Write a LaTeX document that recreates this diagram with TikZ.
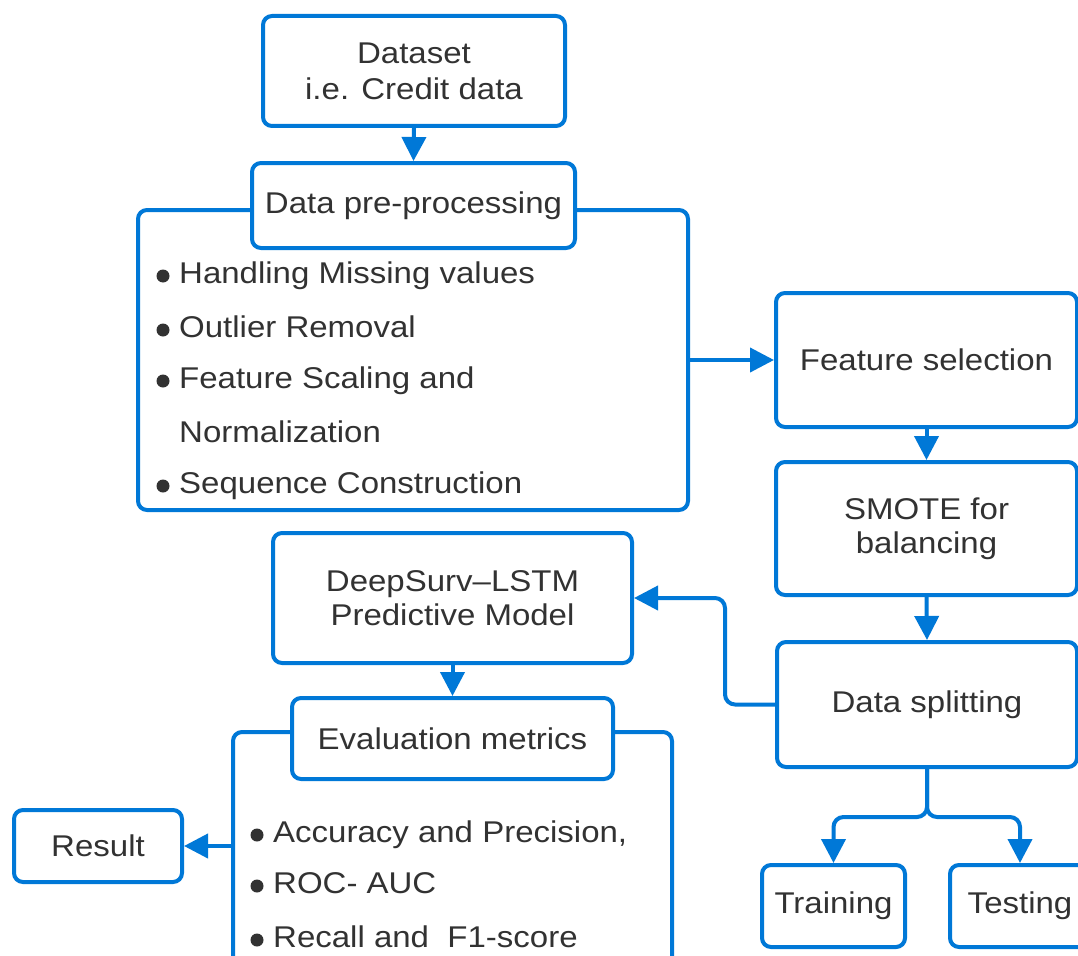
\documentclass[tikz,border=0pt]{standalone}
\usepackage{fontspec}
\setmainfont[FakeStretch=1.1]{Liberation Sans}
\usetikzlibrary{arrows.meta}
\definecolor{flowblue}{RGB}{0,120,215}
\definecolor{ink}{RGB}{50,50,50}

\begin{document}
\begin{tikzpicture}[x=1pt,y=-1pt,
  txt/.style={text=ink, font=\fontsize{30}{35}\selectfont},
  box/.style={txt, draw=flowblue, line width=4pt, rounded corners=9pt,
    fill=white, inner sep=0pt, align=center},
  item/.style={txt, anchor=base west, inner sep=0pt},
  arr/.style={draw=flowblue, line width=4pt,
    -{Triangle[length=24pt,width=24pt]}},
  bullet/.style={fill=ink}]

\fill[white] (0,0) rectangle (1078,955);
\useasboundingbox (0,0) rectangle (1078,955);

% pre-processing group
\node[box, minimum width=550pt, minimum height=300pt] (prebig) at (413,360) {};
\node[box, minimum width=323pt, minimum height=85pt] (pretitle) at (413.5,205.5) {Data pre-processing};
\node[box, minimum width=302pt, minimum height=110pt, font=\fontsize{30}{36}\selectfont] (dataset) at (414,71) {Dataset\\i.e. Credit data};

\node[item] (p1) at (179,283) {Handling Missing values};
\node[item] (p2) at (179,337) {Outlier Removal};
\node[item] (p3) at (179,388) {Feature Scaling and};
\node[item] (p4) at (179,442) {Normalization};
\node[item] (p5) at (179,493) {Sequence Construction};
\foreach \n in {p1,p2,p3,p5}
  \fill[bullet] (\n.base west) ++(-16,-7) circle (6.5pt);

% right column
\node[box, minimum width=301pt, minimum height=134pt] (fs) at (926.5,360) {Feature selection};
\node[box, minimum width=301pt, minimum height=133pt, font=\fontsize{30}{34}\selectfont] (smote) at (926.5,528.5) {SMOTE for\\balancing};
\node[box, minimum width=300pt, minimum height=125pt] (split) at (927,704.5) {Data splitting};
\node[box, minimum width=143pt, minimum height=82pt] (train) at (833.5,906) {Training};
\node[box, minimum width=140pt, minimum height=82pt] (test) at (1020,906) {Testing};

% model and evaluation
\node[box, minimum width=359pt, minimum height=130pt, font=\fontsize{30}{34}\selectfont] (deep) at (452.5,598) {DeepSurv–LSTM\\Predictive Model};
\node[box, minimum width=439pt, minimum height=268pt] (evalbig) at (452.5,866) {};
\node[box, minimum width=321pt, minimum height=81pt] (evaltitle) at (452.5,738.5) {Evaluation metrics};
\node[box, minimum width=168pt, minimum height=72pt] (result) at (98,846) {Result};

\node[item] (e1) at (273,842) {Accuracy and Precision,};
\node[item] (e2) at (273,893) {ROC- AUC};
\node[item] (e3) at (273,947) {Recall and~ F1-score};
\foreach \n in {e1,e2,e3}
  \fill[bullet] (\n.base west) ++(-16,-7) circle (6.5pt);

% connectors
\coordinate (bend) at (725,0);
\coordinate (fork) at (0,817);
\draw[arr] (dataset.south) -- (pretitle.north);
\draw[arr] (prebig.east) -- (fs.west);
\draw[arr] (fs.south) -- (smote.north);
\draw[arr] (smote.south) -- (split.north);
\draw[arr, rounded corners=10pt] (split.west) -- (split.west -| bend) |- (deep.east);
\draw[arr] (deep.south) -- (evaltitle.north);
\draw[arr] (evalbig.west |- result.east) -- (result.east);
\draw[arr, rounded corners=10pt] (split.south) -- (split.south |- fork) -| (train.north);
\draw[arr, rounded corners=10pt] (split.south) -- (split.south |- fork) -| (test.north);
\end{tikzpicture}
\end{document}
